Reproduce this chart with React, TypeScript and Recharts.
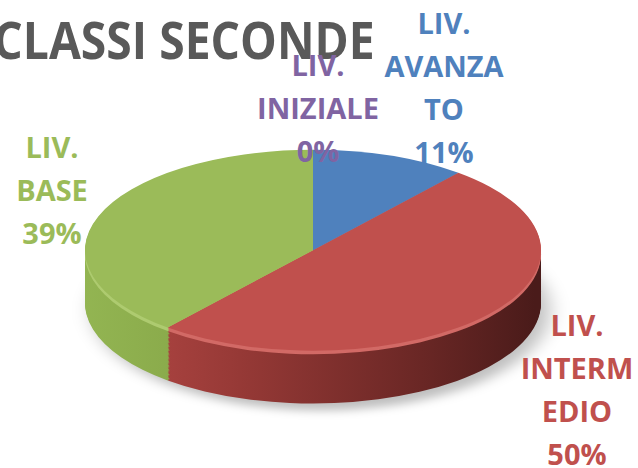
import { PieChart, Pie, Cell } from "recharts";

const names = ["LIV. INIZIALE", "LIV. AVANZATO", "LIV. INTERMEDIO", "LIV. BASE"];
const values = [0, 11, 50, 39];
const topColors = ["#8064a2", "#4f81bd", "#c0504d", "#9bbb59"];
const sideFills = ["#5e4a7a", "#3a5f8c", "url(#redSide)", "url(#greenSide)"];
const lipColors = ["#9077b3", "#6b97cc", "#d26a66", "#aecb70"];
const labelLines = [
  ["LIV.", "INIZIALE"],
  ["LIV.", "AVANZA", "TO"],
  ["LIV.", "INTERM", "EDIO"],
  ["LIV.", "BASE"],
];

const total = values.reduce((a, b) => a + b, 0);
const data = names.map((name, i) => ({ name, value: values[i] }));

// label placement (centre x, top of first line)
const labelPos = [
  { x: 318, y: 43 },
  { x: 444, y: 1 },
  { x: 577, y: 303 },
  { x: 52, y: 125 },
];

// squash the round pie into an ellipse
const K = 0.4405;
const R = 228;
const CX = 308;
const CY = 248 / K;
const DEPTH = 120;
const STEP = 3;
const sideOffsets: number[] = [];
for (let d = DEPTH; d > 8; d -= STEP) sideOffsets.push(d);

export default function App() {
  return (
    <div
      style={{
        position: "absolute",
        left: 0,
        top: 0,
        width: 638,
        height: 468,
        overflow: "hidden",
        background: "#fff",
        fontFamily: "'Open Sans', sans-serif",
      }}
    >
      <div style={{ transform: `scaleY(${K})`, transformOrigin: "0 0" }}>
        <PieChart width={638} height={Math.ceil(468 / K)}>
          <defs>
            <linearGradient id="redSide" x1="81" y1="0" x2="535" y2="0" gradientUnits="userSpaceOnUse">
              <stop offset="0%" stopColor="#b84a47" />
              <stop offset="35%" stopColor="#963936" />
              <stop offset="75%" stopColor="#6a2725" />
              <stop offset="100%" stopColor="#4a1b1a" />
            </linearGradient>
            <linearGradient id="greenSide" x1="81" y1="0" x2="535" y2="0" gradientUnits="userSpaceOnUse">
              <stop offset="0%" stopColor="#93b552" />
              <stop offset="30%" stopColor="#86a648" />
            </linearGradient>
            <filter id="blur" x="-20%" y="-20%" width="140%" height="140%">
              <feGaussianBlur stdDeviation="10" />
            </filter>
          </defs>
          <Pie
            data={[{ value: 1 }]}
            dataKey="value"
            cx={CX + 8}
            cy={CY + DEPTH + 16}
            outerRadius={R}
            startAngle={90}
            endAngle={-270}
            fill="#000"
            fillOpacity={0.25}
            stroke="none"
            filter="url(#blur)"
            legendType="none"
            isAnimationActive={false}
          />
          {sideOffsets.map((d) => (
            <Pie
              key={d}
              data={data}
              dataKey="value"
              cx={CX}
              cy={CY + d}
              outerRadius={R}
              startAngle={90}
              endAngle={-270}
              stroke="none"
              legendType="none"
              isAnimationActive={false}
            >
              {data.map((_, i) => (
                <Cell key={i} fill={sideFills[i]} />
              ))}
            </Pie>
          ))}
          {[8, 5, 2].map((d) => (
            <Pie
              key={"lip" + d}
              data={data}
              dataKey="value"
              cx={CX}
              cy={CY + d}
              outerRadius={R}
              startAngle={90}
              endAngle={-270}
              stroke="none"
              legendType="none"
              isAnimationActive={false}
            >
              {data.map((_, i) => (
                <Cell key={i} fill={lipColors[i]} />
              ))}
            </Pie>
          ))}
          <Pie
            data={data}
            dataKey="value"
            cx={CX}
            cy={CY}
            outerRadius={R}
            startAngle={90}
            endAngle={-270}
            stroke="none"
            legendType="none"
            isAnimationActive={false}
          >
            {data.map((_, i) => (
              <Cell key={i} fill={topColors[i]} />
            ))}
          </Pie>
        </PieChart>
      </div>

      <div
        style={{
          position: "absolute",
          left: 184 - 300,
          top: 20 - 18,
          width: 600,
          textAlign: "center",
          fontSize: 52,
          fontWeight: 700,
          lineHeight: "74px",
          color: "#595959",
          transform: "scaleX(0.89)",
          whiteSpace: "nowrap",
        }}
      >
        CLASSI SECONDE
      </div>

      {data.map((d, i) => (
        <div
          key={d.name}
          style={{
            position: "absolute",
            left: labelPos[i].x - 100,
            top: labelPos[i].y,
            width: 200,
            textAlign: "center",
            fontSize: 29,
            fontWeight: 700,
            lineHeight: "43px",
            color: topColors[i],
            whiteSpace: "nowrap",
          }}
        >
          {labelLines[i].map((l) => (
            <div key={l}>{l}</div>
          ))}
          <div>{Math.round((d.value / total) * 100)}%</div>
        </div>
      ))}
    </div>
  );
}
